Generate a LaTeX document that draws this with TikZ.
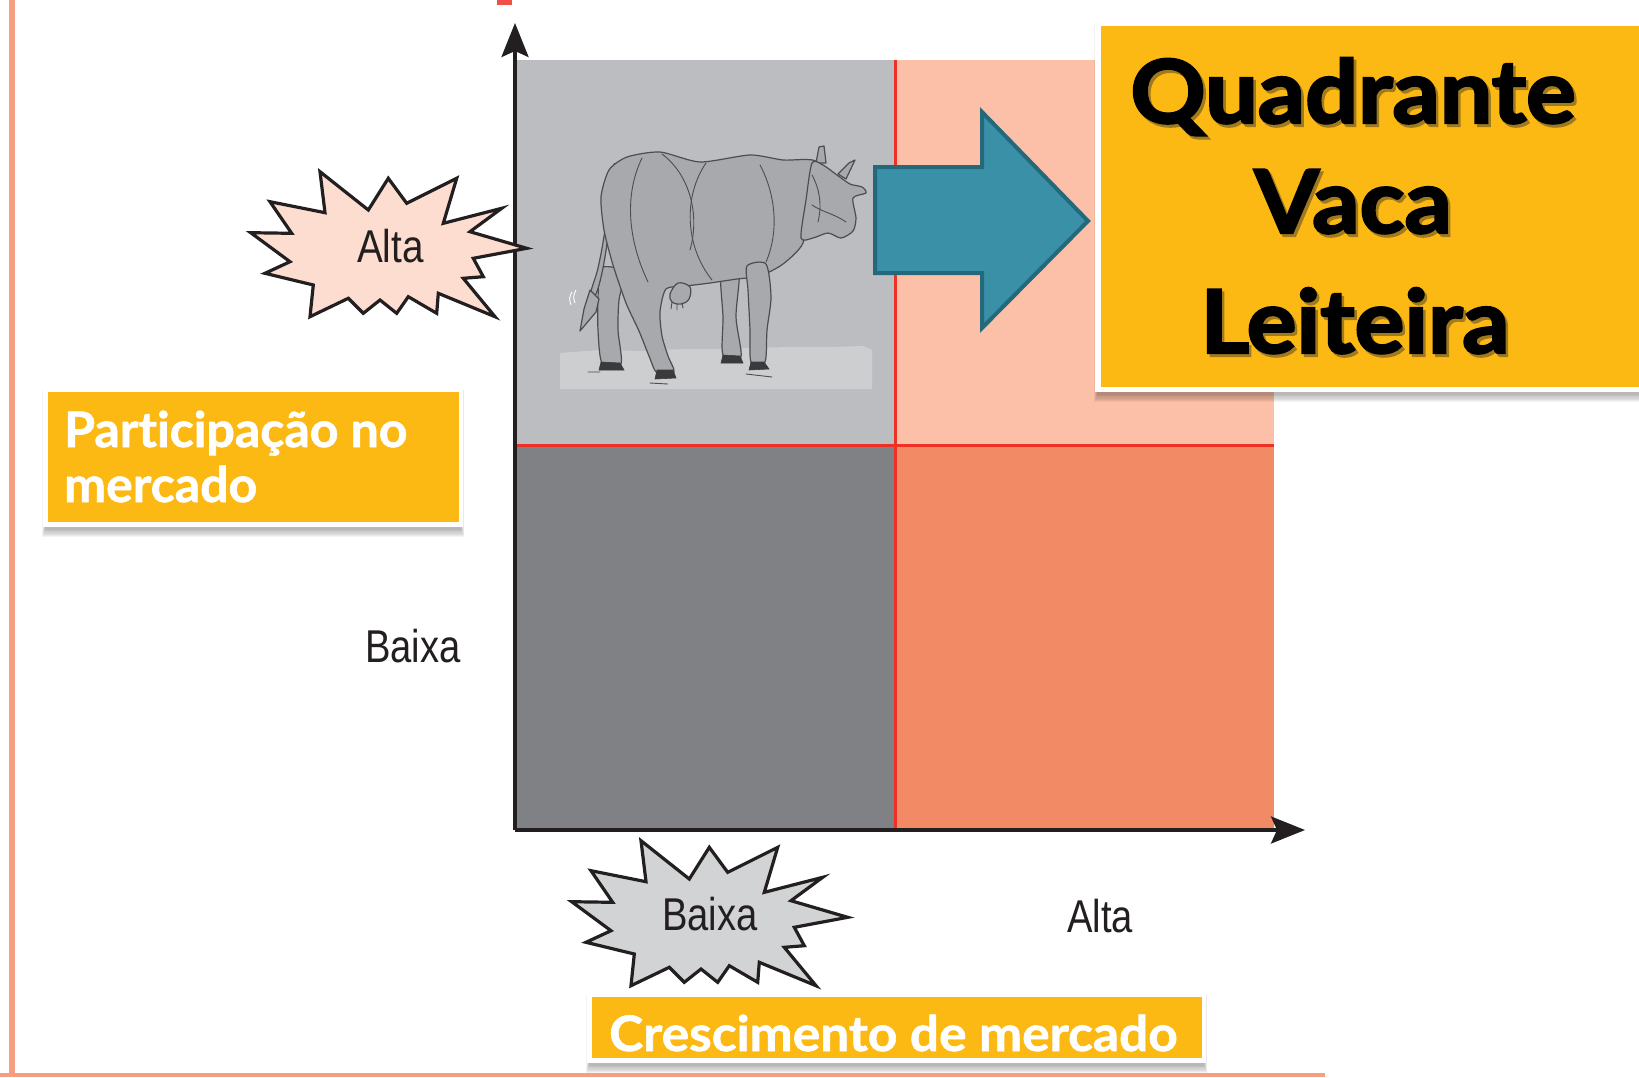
\documentclass[tikz,border=0pt]{standalone}
\usepackage{graphicx}
\usepackage{fontspec}
\setmainfont{Liberation Sans}
\newfontfamily\gill{Lato}[Ligatures=NoCommon, BoldFeatures={FakeBold=1.2}]
\newfontfamily\titlefont{Lato}[Ligatures=NoCommon, BoldFeatures={FakeBold=2.5}]
\usetikzlibrary{arrows.meta,calc}

\definecolor{edgesalmon}{HTML}{F59F80}
\definecolor{qgraylt}{HTML}{BCBDC0}
\definecolor{qgraydk}{HTML}{808184}
\definecolor{qsalmonlt}{HTML}{FBC0A7}
\definecolor{qsalmon}{HTML}{F38A66}
\definecolor{gridred}{HTML}{EE3124}
\definecolor{labelorange}{HTML}{FDB913}
\definecolor{tealfill}{HTML}{3990A7}
\definecolor{tealedge}{HTML}{24697B}
\definecolor{burstpink}{HTML}{FDDDD0}
\definecolor{burstgray}{HTML}{D1D3D4}
\definecolor{inkdark}{HTML}{231F20}
\definecolor{cowfill}{HTML}{A7A9AC}
\definecolor{cowline}{HTML}{4D4D4F}
\definecolor{hoofdark}{HTML}{3A3A3C}
\definecolor{groundgray}{HTML}{CDCED0}
\definecolor{titleshade}{HTML}{A07A1E}

\tikzset{
  axisline/.style={line width=3.5pt, draw=inkdark, -{Stealth[length=34pt,width=27pt,inset=6pt]}},
  gridline/.style={draw=gridred, line width=3pt},
  plainlabel/.style={inner sep=0pt, text=inkdark, font=\fontsize{46}{50}\selectfont},
  boxlabel/.style={inner sep=0pt, text=white, font=\gill\bfseries\fontsize{49}{55}\selectfont},
  titlelabel/.style={inner sep=0pt, text=black, font=\titlefont\bfseries\fontsize{88}{115}\selectfont},
  burstline/.style={draw=inkdark, line width=3.2pt, line join=miter, miter limit=20},
  cowpart/.style={fill=cowfill, draw=cowline, line width=1.2pt, line join=round},
  cowsketch/.style={draw=cowline, line width=0.9pt, line cap=round},
  hoof/.style={fill=hoofdark, draw=hoofdark, line width=0.6pt},
}

% jagged "explosion" outline, placed by a shift
\newcommand\burstshape[2]{%
  \filldraw[burstline, fill=#1, shift={#2}]
    (250.7,232.7) -- (291.7,233.3) -- (270,201.7) -- (325,212.7) -- (320,171.7)
    -- (368.3,210) -- (388.3,178.3) -- (406.7,203.3) -- (456.7,178.3) -- (443.3,223.3)
    -- (501.7,208.3) -- (470,231.7) -- (526.7,248.3) -- (473.3,258.3) -- (483.3,276.7)
    -- (463.3,278.3) -- (495,316.7) -- (438.3,293.3) -- (436.7,313.3) -- (408.3,296.7)
    -- (396.7,313.3) -- (380,300) -- (363.3,313.3) -- (348.3,298.3) -- (310,316.7)
    -- (313.3,285) -- (265,273.3) -- (290,261.7) -- cycle;}

% soft shadow under a label box
\newcommand\boxshadow[4]{%
  \foreach \k in {0,...,6}{%
    \fill[black, opacity=0.045] ({#1-\k*0.5+2},{#2+3}) rectangle ({#3+\k*0.5-2},{#4+3+\k*1.2});
  }}

% title word with its warm drop shade
\newcommand\shadedword[1]{%
  \rlap{\hspace{2.5pt}\raisebox{-3pt}{\color{titleshade}#1}}#1}

\begin{document}
\begin{tikzpicture}[x=1pt, y=-1pt]
\useasboundingbox (0,0) rectangle (1639,1077);
\fill[white] (0,0) rectangle (1639,1077);

% page frame lines
\fill[edgesalmon] (9,0) rectangle (15,1077);
\fill[edgesalmon] (0,1073) rectangle (1325,1077);
\fill[gridred!85!white] (497,0) rectangle (512,5);

% the four quadrants
\fill[qgraylt]   (517,60)  rectangle (895,445);
\fill[qsalmonlt] (895,60)  rectangle (1274,445);
\fill[qgraydk]   (517,445) rectangle (895,828);
\fill[qsalmon]   (895,445) rectangle (1274,828);
\draw[gridline] (895,60) -- (895,828);
\draw[gridline] (517,445) -- (1274,445);

% ---------- cow ----------
\fill[groundgray] (560,353) -- (600,350) -- (640,351) -- (683,349) -- (720,349) -- (750,348)
  -- (790,347) -- (830,347) -- (863,346) -- (872,350) -- (872,389) -- (560,389) -- cycle;
% far hind leg and far front leg
\filldraw[cowpart] plot[smooth cycle, tension=0.45] coordinates
  {(601,268) (598,300) (598,330) (602,363) (621,364) (618,330) (619,300) (624,272)};
\filldraw[cowpart] plot[smooth cycle, tension=0.45] coordinates
  {(721,270) (723,317) (723,355) (741,357) (736,317) (739,270)};
% tail with its tuft
\filldraw[cowpart] plot[smooth cycle, tension=0.6] coordinates
  {(613,168) (605,230) (598,268) (591,292) (596,294) (603,268) (609,230) (617,174)};
\filldraw[cowpart] (590,290) -- (599,299) -- (596,312) -- (580,331) -- (584,309) -- cycle;
\draw[white, line width=0.9pt] (572,292) .. controls (569,298) .. (571,305);
\draw[white, line width=0.9pt] (576,290) .. controls (573,297) .. (575,303);
% body with the near hind leg
\filldraw[cowpart] plot[smooth cycle, tension=0.42] coordinates
  {(627,157) (660,152) (700,162) (750,155) (783,160) (817,162) (810,200) (803,243)
   (783,264) (760,276) (737,279) (710,283) (686,286) (666,289) (660,312) (662,336)
   (668,356) (674,372) (657,373) (649,356) (639,331) (626,303) (613,265) (604,230)
   (601,197) (609,170)};
% udder
\filldraw[cowpart] plot[smooth cycle, tension=0.6] coordinates
  {(678,283) (690,287) (689,299) (681,304) (672,302) (670,294)};
\draw[cowsketch] (672,302) -- (671,309) (677,304) -- (677,310) (682,303) -- (683,308);
% near front leg
\filldraw[cowpart] plot[smooth cycle, tension=0.45] coordinates
  {(747,266) (766,264) (771,297) (767,330) (765,362) (751,362) (750,330) (748,290)};
% head and horns
\filldraw[cowpart] (816,163) -- (819,147) -- (824,146) -- (826,163) -- cycle;
\filldraw[cowpart] (838,174) -- (849,163) -- (855,160) -- (846,179) -- cycle;
\filldraw[cowpart] plot[smooth cycle, tension=0.45] coordinates
  {(812,163) (823,165) (837,175) (850,184) (862,187) (866,193) (853,198)
   (856,218) (853,231) (841,238) (828,233) (813,238) (801,238) (806,200)};
% hooves
\filldraw[hoof] (657,370) -- (673,370) -- (676,378) -- (655,379) -- cycle;
\filldraw[hoof] (601,362) -- (620,363) -- (624,370) -- (599,370) -- cycle;
\filldraw[hoof] (751,362) -- (764,362) -- (769,369) -- (749,370) -- cycle;
\filldraw[hoof] (723,355) -- (740,356) -- (743,363) -- (721,363) -- cycle;
% sketch lines of the haunch, barrel and neck
\draw[cowsketch] (642,158) .. controls (624,195) and (628,240) .. (648,282);
\draw[cowsketch] (706,163) .. controls (684,195) and (684,245) .. (712,280);
\draw[cowsketch] (662,154) .. controls (690,175) and (700,215) .. (690,250);
\draw[cowsketch] (760,165) .. controls (776,195) and (779,232) .. (766,262);
\draw[cowsketch] (812,205) .. controls (822,212) and (835,214) .. (846,222);
\draw[cowsketch] (812,175) .. controls (820,190) and (822,205) .. (818,222);
\draw[cowsketch] (588,372) -- (600,372) (650,383) -- (668,384) (746,374) -- (772,377);

% ---------- axes ----------
\coordinate (origin) at (515,830);
\coordinate (ytip) at (515,23);
\coordinate (xtip) at (1305,830);
\draw[axisline] (origin) -- (ytip);
\draw[axisline] (origin) -- (xtip);

% teal arrow into the title
\filldraw[fill=tealfill, draw=tealedge, line width=4pt, line join=miter]
  (875,167) -- (982,167) -- (982,112) -- (1088,221) -- (982,328) -- (982,273) -- (875,273) -- cycle;

% ---------- level labels ----------
\burstshape{burstpink}{(0,0)}
\burstshape{burstgray}{(321,669)}
\node[plainlabel, anchor=base west] (highshare) at (357,262) {\scalebox{0.84}[1]{Alta}};
\node[plainlabel, anchor=base west] (lowshare) at (365,662) {\scalebox{0.83}[1]{Baixa}};
\node[plainlabel, anchor=base west] (lowgrowth) at (662,930) {\scalebox{0.83}[1]{Baixa}};
\node[plainlabel, anchor=base west] (highgrowth) at (1067,932) {\scalebox{0.83}[1]{Alta}};

% ---------- orange label boxes ----------
\boxshadow{43}{387}{463}{527}
\fill[white] (43,387) rectangle (463,527);
\fill[labelorange] (48,392) rectangle (459,522);
\node[boxlabel, anchor=base west] (share1) at (64,447) {\scalebox{1.02}[1]{Participação no}};
\node[boxlabel, anchor=base west] (share2) at (64,502) {\scalebox{1.02}[1]{mercado}};

\boxshadow{587}{992}{1206}{1063}
\fill[white] (587,992) rectangle (1206,1063);
\fill[labelorange] (592,997) rectangle (1202,1058);
\node[boxlabel, anchor=base west] (growth) at (609,1051) {\scalebox{1.05}[1]{Crescimento de mercado}};

\boxshadow{1095}{21}{1650}{392}
\fill[white] (1095,21) rectangle (1650,392);
\fill[labelorange] (1101,26) rectangle (1650,387);
\node[titlelabel, anchor=base] (t1) at (1353,123) {\scalebox{1.06}[1]{\shadedword{Quadrante}}};
\node[titlelabel, anchor=base] (t2) at (1353,233) {\scalebox{1.06}[1]{\shadedword{Vaca}}};
\node[titlelabel, anchor=base] (t3) at (1355,353) {\scalebox{1.06}[1]{\shadedword{Leiteira}}};
\end{tikzpicture}
\end{document}
